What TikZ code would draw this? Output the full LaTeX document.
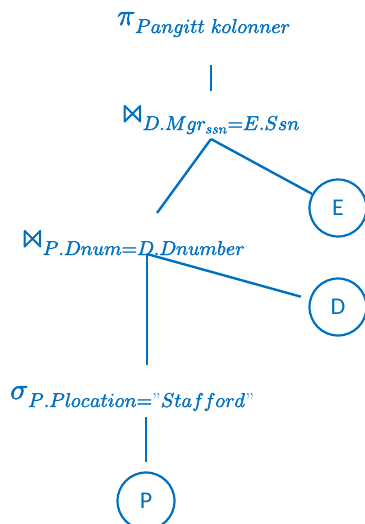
\documentclass[tikz,border=0pt]{standalone}
\usepackage{amsmath}
\usepackage{fontspec}
\usepackage{unicode-math}
\setmathfont{Latin Modern Math}[FakeBold=2]
\setsansfont{Carlito}
\definecolor{opblue}{RGB}{0,112,192}
% operator symbol and its (large) subscript
\newcommand{\opsym}[2]{{\fontsize{#1}{#1}\selectfont$#2$}}
\newcommand{\opsub}[1]{\raisebox{-8pt}{\fontsize{20}{23}\selectfont$#1$}}
\tikzset{
  relnode/.style={circle, draw=opblue, line width=2.2pt, minimum size=57pt, inner sep=0pt,
    text=opblue, font=\sffamily\fontsize{24}{28}\selectfont},
  optext/.style={text=opblue, inner sep=0pt},
  link/.style={draw=opblue, line width=2.4pt}
}
\begin{document}
\begin{tikzpicture}[x=1pt,y=-1pt]
  \useasboundingbox (0,0) rectangle (364,524);

  % Operators
  \node[optext, anchor=base west] (proj) at (117,25) {\opsym{30}{\pi}\opsub{Pangitt\ kolonner}};
  \node[optext, anchor=base west] (join1) at (122,122) {\opsym{33}{\bowtie}\opsub{D.Mgr_{\raisebox{1.5pt}{$\scriptstyle ssn$}}{=}E.Ssn}};
  \node[optext, anchor=base west] (join2) at (22,247) {\opsym{33}{\bowtie}\opsub{P.Dnum{=}D.Dnumber}};
  \node[optext, anchor=base west] (sel) at (10,399) {\opsym{30}{\sigma}\opsub{P.Plocation{=}\text{"}Stafford\text{"}}};

  % Relations
  \node[relnode] (E) at (338,208) {E};
  \node[relnode] (D) at (338,307) {D};
  \node[relnode] (P) at (146,501) {P};

  % Branch points of the tree
  \coordinate (j1) at (211,139);
  \coordinate (j1left) at (157,213);
  \coordinate (j2) at (147,254);

  % Edges
  \draw[link, shorten <=28pt, shorten >=14pt] (proj.south -| j1) -- (join1.north -| j1);
  \draw[link] (j1) -- (j1left);
  \draw[link] (j1) -- (E);
  \draw[link, shorten >=9pt] (j2) -- (D);
  \draw[link, shorten >=21pt] (j2) -- (sel.north -| j2);
  \draw[link, shorten <=6pt, shorten >=9pt] (sel.south -| P) -- (P);
\end{tikzpicture}
\end{document}
